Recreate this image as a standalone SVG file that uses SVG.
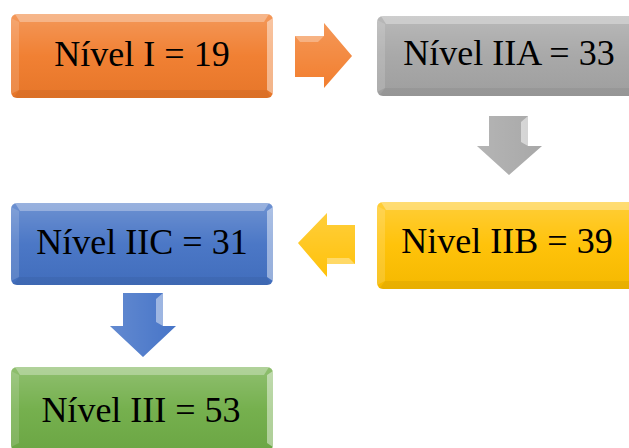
<svg xmlns="http://www.w3.org/2000/svg" width="629" height="448" viewBox="0 0 629 448">
<defs>
<linearGradient id="shine" x1="0" y1="0" x2="0" y2="1">
<stop offset="0" stop-color="#fff" stop-opacity="0.22"/>
<stop offset="0.5" stop-color="#fff" stop-opacity="0.04"/>
<stop offset="1" stop-color="#000" stop-opacity="0.04"/>
</linearGradient>
<linearGradient id="ashineH" x1="0" y1="0" x2="0" y2="1">
<stop offset="0" stop-color="#fff" stop-opacity="0.2"/>
<stop offset="1" stop-color="#fff" stop-opacity="0"/>
</linearGradient>
<linearGradient id="ashineV" x1="0" y1="0" x2="1" y2="0">
<stop offset="0" stop-color="#fff" stop-opacity="0.15"/>
<stop offset="1" stop-color="#fff" stop-opacity="0"/>
</linearGradient>
</defs>
<style>
.lbl{font-family:"Liberation Serif","Times New Roman",serif;font-size:36px;fill:#000;text-anchor:middle}
.bt{fill:#fff;fill-opacity:0.3}
.bl{fill:#fff;fill-opacity:0.15}
.br{fill:#fff;fill-opacity:0.45}
.bb{fill:#000;fill-opacity:0.05}
.sh{fill:url(#shine)}
</style>

<g id="connectors">
<g id="arrow-orange">
<polygon points="295,36 324,36 324,23 352,56 324,88 324,77 295,77" fill="#F27E2E"/>
<polygon points="295,36 324,36 324,23 352,56 324,88 324,77 295,77" fill="url(#ashineH)"/>
<polygon points="295,36 324,36 318,42 300,42" fill="#fff" fill-opacity="0.3"/>
</g>
<g id="arrow-gray">
<polygon points="489,116 528,116 528,146 542,146 509,175 477,146 489,146" fill="#A8A8A8"/>
<polygon points="489,116 528,116 528,146 542,146 509,175 477,146 489,146" fill="url(#ashineV)"/>
<polygon points="521,122 528,116 528,146 521,142" fill="#fff" fill-opacity="0.5"/>
</g>
<g id="arrow-yellow">
<polygon points="355,225 327,225 327,213 298,243 327,277 327,264 355,264" fill="#FFC20A"/>
<polygon points="355,225 327,225 327,213 298,243 327,277 327,264 355,264" fill="url(#ashineH)"/>
<polygon points="327,258 349,258 355,264 327,264" fill="#fff" fill-opacity="0.35"/>
</g>
<g id="arrow-blue">
<polygon points="123,293 163,293 163,326 176,326 143,357 110,326 123,326" fill="#4775C8"/>
<polygon points="123,293 163,293 163,326 176,326 143,357 110,326 123,326" fill="url(#ashineV)"/>
<polygon points="156,299 163,293 163,326 156,322" fill="#fff" fill-opacity="0.45"/>
</g>
</g>

<g id="node-I">
<rect x="11" y="14" width="262" height="84" rx="6" fill="#F07B2B"/>
<rect x="11" y="14" width="262" height="84" rx="6" class="sh"/>
<polygon class="bt" points="15,14 269,14 264,22 20,22"/>
<polygon class="bl" points="11,18 19,22 19,90 11,94"/>
<polygon class="br" points="273,18 267,22 267,90 273,94"/>
<polygon class="bb" points="19,90 267,90 271,98 13,98"/>
<text class="lbl" x="142" y="66">Nível I = 19</text>
</g>

<g id="node-IIA">
<rect x="377" y="16" width="264" height="80" rx="6" fill="#A5A5A5"/>
<rect x="377" y="16" width="264" height="80" rx="6" class="sh"/>
<polygon class="bt" points="381,16 637,16 632,24 386,24"/>
<polygon class="bl" points="377,20 385,24 385,88 377,92"/>
<polygon class="bb" points="385,88 633,88 637,96 379,96"/>
<text class="lbl" x="509" y="65">Nível IIA = 33</text>
</g>

<g id="node-IIB">
<rect x="377" y="202" width="264" height="87" rx="6" fill="#FFC000"/>
<rect x="377" y="202" width="264" height="87" rx="6" class="sh"/>
<polygon class="bt" points="381,202 637,202 632,210 386,210"/>
<polygon class="bl" points="377,206 385,210 385,281 377,285"/>
<polygon class="bb" points="385,281 633,281 637,289 379,289"/>
<text class="lbl" x="507" y="253">Nivel IIB = 39</text>
</g>

<g id="node-IIC">
<rect x="11" y="203" width="262" height="82" rx="6" fill="#4472C4"/>
<rect x="11" y="203" width="262" height="82" rx="6" class="sh"/>
<polygon class="bt" points="15,203 269,203 264,211 20,211"/>
<polygon class="bl" points="11,207 19,211 19,277 11,281"/>
<polygon class="br" points="273,207 267,211 267,277 273,281"/>
<polygon class="bb" points="19,277 267,277 271,285 13,285"/>
<text class="lbl" x="142" y="254">Nível IIC = 31</text>
</g>

<g id="node-III">
<rect x="11" y="367" width="262" height="84" rx="6" fill="#70AD47"/>
<rect x="11" y="367" width="262" height="84" rx="6" class="sh"/>
<polygon class="bt" points="15,367 269,367 264,375 20,375"/>
<polygon class="bl" points="11,371 19,375 19,443 11,447"/>
<polygon class="br" points="273,371 267,375 267,443 273,447"/>
<text class="lbl" x="141" y="422">Nível III = 53</text>
</g>
</svg>
